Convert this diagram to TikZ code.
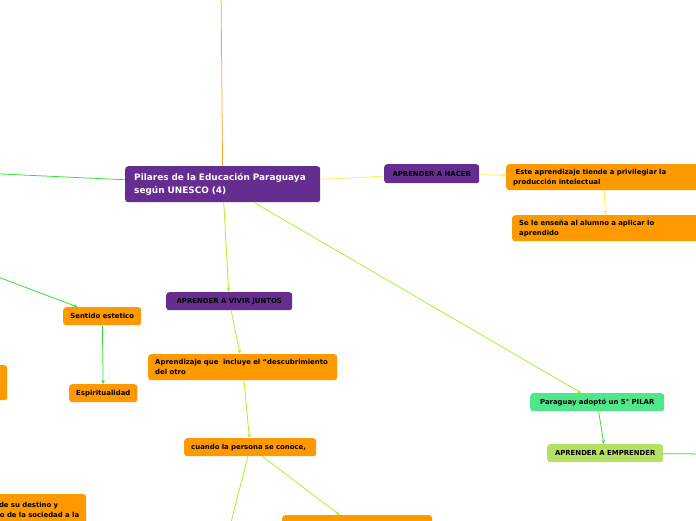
\documentclass[tikz,border=0pt]{standalone}
\usepackage{fontspec}
\setmainfont{DejaVu Sans}
\usetikzlibrary{arrows.meta}
\hyphenpenalty=10000
\exhyphenpenalty=10000

\definecolor{pilarpurple}{RGB}{102,45,145}
\definecolor{ideaorange}{RGB}{255,153,0}
\definecolor{pilargreen}{RGB}{80,230,140}
\definecolor{emprendgreen}{RGB}{180,225,100}
\definecolor{lineorange}{RGB}{255,165,40}
\definecolor{linegreen}{RGB}{45,225,45}
\definecolor{linelime}{RGB}{170,240,30}
\definecolor{lineyellow}{RGB}{255,238,70}

\begin{document}
\begin{tikzpicture}[
    x=0.03cm, y=-0.03cm,
    box/.style={rounded corners=2.5pt, anchor=north west, inner xsep=0.21cm,
        inner ysep=0pt, text=black, font=\bfseries\fontsize{5.9}{8.5}\selectfont},
    pillar/.style={box, fill=pilarpurple},
    idea/.style={box, fill=ideaorange},
    link/.style={line width=0.65pt},
    >={Stealth[length=3.5pt,width=3pt]}
]
\useasboundingbox (0,0) rectangle (696,520);
\clip (0,0) rectangle (696,520);

% ======================
% Central topic
% ======================
\node[pillar, text=white, font=\bfseries\fontsize{7.6}{11.5}\selectfont, inner xsep=0.27cm,
    text width=5.31cm, minimum height=1.08cm, align=left] (main) at (125,166)
    {Pilares de la Educación Paraguaya\\según UNESCO (4)};

% ======================
% Aprender a hacer
% ======================
\node[pillar, minimum width=2.85cm, minimum height=0.57cm] (hacer) at (384,164) {APRENDER A HACER};
\node[idea, text width=5.40cm, minimum height=0.78cm, align=left] (intelectual) at (506,164)
    {\ Este aprendizaje tiende a privilegiar la\\producción intelectual};
\node[idea, text width=5.22cm, minimum height=0.78cm, align=left] (aplicar) at (512,215)
    {Se le enseña al alumno a aplicar lo\\aprendido};

% ======================
% Aprender a vivir juntos
% ======================
\node[pillar, minimum width=3.78cm, minimum height=0.54cm] (vivir) at (166,292) {APRENDER A VIVIR JUNTOS};
\node[idea, text width=5.25cm, minimum height=0.78cm, align=left] (otro) at (148,354)
    {Aprendizaje que\ \ incluye el “descubrimiento\\del otro};
\node[idea, text width=3.54cm, minimum height=0.54cm, align=left] (conoce) at (184,438) {cuando la persona se conoce,};
\node[idea, text width=4.08cm, minimum height=0.78cm] (abajo) at (282,515) {};

% ======================
% Left branch
% ======================
\node[idea, minimum width=2.34cm, minimum height=0.54cm] (estetico) at (63,307) {Sentido estetico};
\node[idea, minimum width=2.04cm, minimum height=0.54cm] (espiritu) at (69,384) {Espiritualidad};
\node[idea, text width=2.79cm, minimum height=1.05cm] (izquierda) at (-100,365) {};
\node[idea, inner xsep=0.09cm, text width=3.54cm, minimum height=0.93cm, align=left] (destino) at (-38,494)
    {persona de su destino y\\desarrollo de la sociedad a la};

% ======================
% Quinto pilar
% ======================
\node[box, fill=pilargreen, minimum width=4.02cm, minimum height=0.54cm] (quinto) at (530,393) {Paraguay adoptó un 5° PILAR};
\node[box, fill=emprendgreen, minimum width=3.48cm, minimum height=0.54cm] (emprender) at (547,444) {APRENDER A EMPRENDER};

% ======================
% Free ends
% ======================
\coordinate (arriba) at (221,-10);
\coordinate (oeste) at (-10,173.5);
\coordinate (oestebajo) at (-10,274);
\coordinate (sur) at (229,530);
\coordinate (derecha) at (710,454);

% ======================
% Connections
% ======================
\draw[link, lineorange] (arriba) -- (main);
\draw[link, linegreen] (oeste) -- (main);
\draw[link, lineyellow] (main) -- (hacer);
\draw[link, lineyellow, ->] (hacer) -- (intelectual);
\draw[link, lineyellow, ->] (intelectual) -- (aplicar);
\foreach \s/\t in {main/vivir, vivir/otro, otro/conoce, conoce/abajo, main/quinto} {
    \draw[link, linelime, ->] (\s) -- (\t);
}
\draw[link, linelime] (conoce) -- (sur);
\foreach \s/\t in {oestebajo/estetico, estetico/espiritu, quinto/emprender} {
    \draw[link, linegreen, ->] (\s) -- (\t);
}
\draw[link, linegreen] (emprender) -- (derecha);

\end{tikzpicture}
\end{document}
